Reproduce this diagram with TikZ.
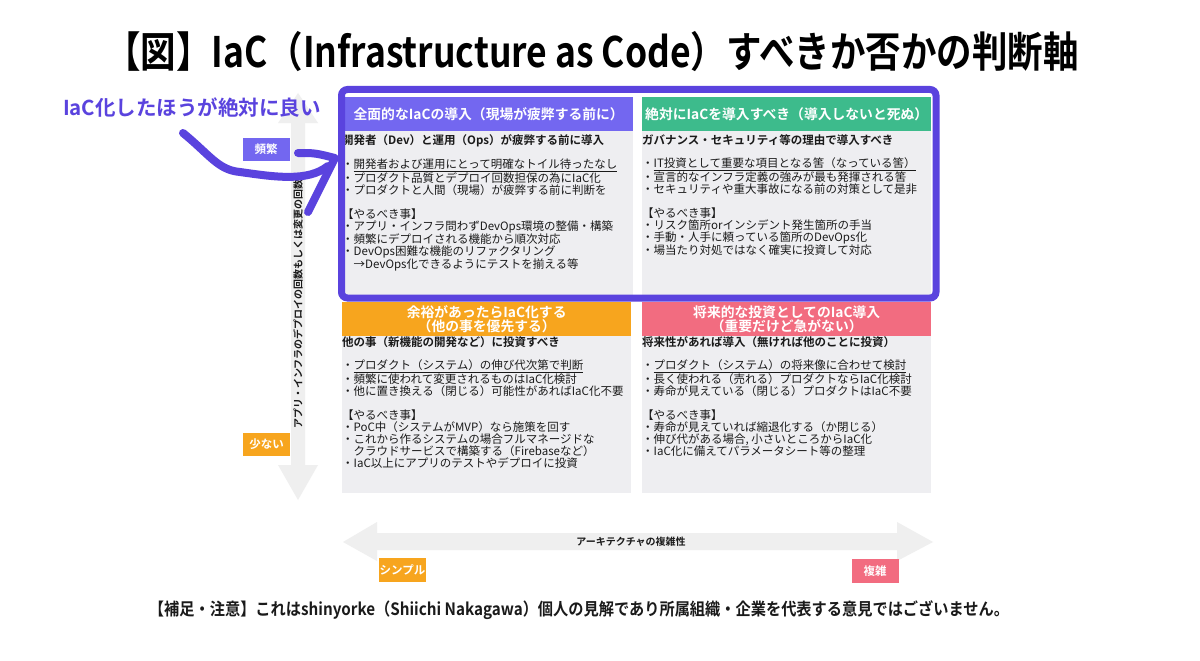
\documentclass[tikz,border=0pt]{standalone}
\usepackage{fontspec}
\setmainfont{Noto Sans CJK JP}[BoldFont={Noto Sans CJK JP Bold}]
\usepackage{xcolor}
\usepackage{tikz}
\definecolor{frameviolet}{HTML}{5A43DE}
\definecolor{hdrviolet}{HTML}{7367F0}
\definecolor{hdrgreen}{HTML}{3DBB8C}
\definecolor{hdrorange}{HTML}{F7A51E}
\definecolor{hdrpink}{HTML}{F26C80}
\definecolor{panelgray}{HTML}{EEEEF1}
\definecolor{axisgray}{HTML}{EFEFEF}
\definecolor{inkgray}{HTML}{1A1A1A}

\tikzset{
  header/.style={minimum width=289pt, minimum height=34pt, inner sep=0pt,
                 align=center, text=white, font=\bfseries\fontsize{13.8}{14}\selectfont},
  bodytext/.style={anchor=north west, inner sep=0pt, align=left, text=inkgray,
                   font=\fontsize{11.5}{12}\selectfont},
  axistag/.style={minimum width=47pt, minimum height=23pt, inner sep=0pt,
                  text=white, font=\bfseries\fontsize{11.5}{12}\selectfont},
  axislabel/.style={inner sep=0pt, text=inkgray, font=\bfseries\fontsize{10}{11}\selectfont},
}

\begin{document}
\begin{tikzpicture}[x=1pt, y=-1pt]
    \useasboundingbox (0,0) rectangle (1200,661);
    \fill[white] (0,0) rectangle (1200,661);

    % title
    \node[inner sep=0pt, text=black] (title) at (592,52)
      {\scalebox{0.845}[1]{\bfseries\fontsize{42}{46}\selectfont 【図】IaC（Infrastructure as Code）すべきか否かの判断軸}};

    % axes
    \fill[axisgray] (298,93) -- (318,123) -- (305,123) -- (305,465) -- (318,465) -- (298,500)
      -- (278,465) -- (291,465) -- (291,123) -- (278,123) -- cycle;
    \fill[axisgray] (343,542) -- (377,522) -- (377,533) -- (897,533) -- (897,522) -- (933,542)
      -- (897,561) -- (897,550) -- (377,550) -- (377,561) -- cycle;
    \node[axislabel, rotate=90] (vlabel) at (298,299) {アプリ・インフラのデプロイの回数もしくは変更の回数）};
    \node[axislabel] (hlabel) at (631,542) {アーキテクチャの複雑性};

    % quadrants
    \foreach \px/\py/\pb/\col/\txt [count=\i] in {
        344/97/296/hdrviolet/{全面的なIaCの導入（現場が疲弊する前に）},
        642/97/296/hdrgreen/{絶対にIaCを導入すべき（導入しないと死ぬ）},
        342/302/493/hdrorange/{余裕があったらIaC化する\\（他の事を優先する）},
        642/302/493/hdrpink/{将来的な投資としてのIaC導入\\（重要だけど急がない）}}{
      \fill[panelgray] (\px,\py) rectangle ++(289,\pb-\py);
      \node[header, fill=\col, anchor=north west] (hdr\i) at (\px,\py) {\txt};
    }

    \node[bodytext] (body1) at (342,134) {\rule{0pt}{10pt}\textbf{開発者（Dev）と運用（Ops）が疲弊する前に導入}\\[11pt]
      ・\underline{開発者および運用にとって明確なトイル待ったなし}\\
      ・プロダクト品質とデプロイ回数担保の為にIaC化\\
      ・プロダクトと人間（現場）が疲弊する前に判断を\\[12pt]
      【やるべき事】\\
      ・アプリ・インフラ問わずDevOps環境の整備・構築\\
      ・頻繁にデプロイされる機能から順次対応\\
      ・DevOps困難な機能のリファクタリング\\
      \hspace*{1em}→DevOps化できるようにテストを揃える等};
    \node[bodytext] (body2) at (642,134) {\rule{0pt}{10pt}\textbf{ガバナンス・セキュリティ等の理由で導入すべき}\\[11pt]
      ・\underline{IT投資として重要な項目となる筈（なっている筈）}\\
      ・宣言的なインフラ定義の強みが最も発揮される筈\\
      ・セキュリティや重大事故になる前の対策として是非\\[12pt]
      【やるべき事】\\
      ・リスク箇所orインシデント発生箇所の手当\\
      ・手動・人手に頼っている箇所のDevOps化\\
      ・場当たり対処ではなく確実に投資して対応};
    \node[bodytext] (body3) at (342,336) {\rule{0pt}{10pt}\textbf{他の事（新機能の開発など）に投資すべき}\\[11pt]
      ・\underline{プロダクト（システム）の伸び代次第で判断}\\
      ・頻繁に使われて変更されるものはIaC化検討\\
      ・他に置き換える（閉じる）可能性があればIaC化不要\\[12pt]
      【やるべき事】\\
      ・PoC中（システムがMVP）なら施策を回す\\
      ・これから作るシステムの場合フルマネージドな\\
      \hspace*{1em}クラウドサービスで構築する（Firebaseなど）\\
      ・IaC以上にアプリのテストやデプロイに投資};
    \node[bodytext] (body4) at (642,336) {\rule{0pt}{10pt}\textbf{将来性があれば導入（無ければ他のことに投資）}\\[11pt]
      ・\underline{プロダクト（システム）の将来像に合わせて検討}\\
      ・長く使われる（売れる）プロダクトならIaC化検討\\
      ・寿命が見えている（閉じる）プロダクトはIaC不要\\[12pt]
      【やるべき事】\\
      ・寿命が見えていれば縮退化する（か閉じる）\\
      ・伸び代がある場合, 小さいところからIaC化\\
      ・IaC化に備えてパラメータシート等の整理};

    % highlight frame
    \draw[frameviolet, line width=7pt, rounded corners=6pt] (341.5,89.5) rectangle (936,298);

    % axis tags
    \node[axistag, fill=hdrviolet] (often) at (266,149.5) {頻繁};
    \node[axistag, fill=hdrorange] (rare) at (266.5,444) {少ない};
    \node[axistag, fill=hdrorange, minimum height=24pt] (simple) at (402.5,570) {シンプル};
    \node[axistag, fill=hdrpink, minimum height=24pt] (complex) at (875,571) {複雑};

    % callout
    \node[inner sep=0pt, text=frameviolet, font=\bfseries\fontsize{20.5}{22}\selectfont] (callout) at (192,108) {IaC化したほうが絶対に良い};
    \coordinate (curl) at (183,133);
    \coordinate (tip) at (335,158);
    \draw[frameviolet, line width=8pt, line cap=round, line join=round]
      (curl) .. controls (210,155) and (218,170) .. (240,172)
             .. controls (275,177) and (308,182) .. (328,166);
    \draw[frameviolet, line width=8pt, line cap=round, line join=round]
      (298,153) .. controls (315,153) .. (tip) -- (308,212);

    % footer
    \node[inner sep=0pt, text=inkgray] (note) at (579,610)
      {\scalebox{0.895}[1]{\bfseries\fontsize{17}{18}\selectfont 【補足・注意】これはshinyorke（Shiichi Nakagawa）個人の見解であり所属組織・企業を代表する意見ではございません。}};
\end{tikzpicture}
\end{document}
